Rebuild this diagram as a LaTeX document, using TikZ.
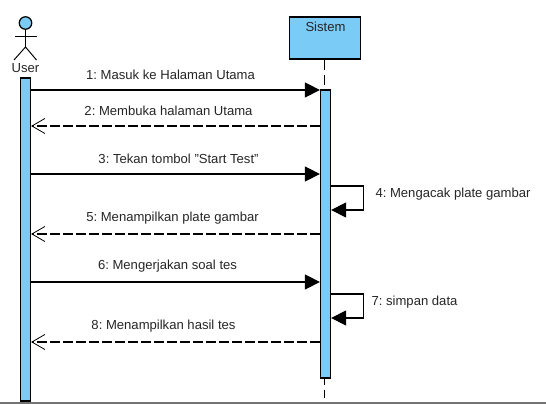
\documentclass[tikz,border=0pt]{standalone}
\usepackage{fontspec}
\setmainfont{Liberation Sans}
\usepackage{xcolor}
\usetikzlibrary{arrows.meta}
\usetikzlibrary{positioning}
\definecolor{barblue}{HTML}{7ACBF5}
\frenchspacing
\tikzset{
    bar/.style={draw=black, fill=barblue, line width=0.7pt, minimum width=0.2cm, inner sep=0pt},
    lbl/.style={font=\fontsize{7.45}{9}\selectfont, text=black!85, inner sep=0pt},
    msg/.style={line width=0.6pt, -{Triangle[length=0.3cm,width=0.3cm]}},
    reply/.style={line width=0.65pt, dash pattern=on 0.19cm off 0.07cm, -{Straight Barb[length=0.26cm,width=0.3cm,line width=0.45pt]}},
}
\begin{document}
\begin{tikzpicture}[x=0.02cm, y=-0.02cm]
        \useasboundingbox (0,0) rectangle (546,404);
        % baris bawah
        \fill[black!55] (0,402) rectangle (546,404);

        % aktor
        \node [circle, draw=black, fill=barblue, line width=0.7pt, minimum size=0.25cm, inner sep=0pt] (head) at (25.5,23) {};
        \coordinate (neck) at (25.5,47);
        \coordinate (armL) at (15,36);
        \coordinate (armR) at (36.5,36);
        \coordinate (legL) at (14,60);
        \coordinate (legR) at (36.5,60);
        \draw [line width=0.55pt] (head) -- (neck);
        \draw [line width=0.55pt] (armL) -- (armR);
        \draw [line width=0.55pt] (legL) -- (neck) -- (legR);
        \node [lbl] (user) at (25.5,68.5) {User};
        \node [bar, minimum height=6.46cm, anchor=north] (userbar) at (25.5,77.5) {};

        % sistem
        \node [bar, minimum width=1.42cm, minimum height=0.84cm] (sistem) at (325,38) {};
        \node [lbl] (sistemlbl) at (325.5,26.5) {Sistem};
        \coordinate (lifeend) at (324.5,398);
        \draw [line width=0.7pt, dash pattern=on 0.2cm off 0.1cm] (sistem.south -| lifeend) -- (lifeend);
        \node [bar, minimum height=5.76cm, anchor=north] (sistembar) at (325.5,89.5) {};

        % pesan
        \coordinate (m1) at (0,90);
        \coordinate (m2) at (0,126);
        \coordinate (m3) at (0,174);
        \coordinate (m5) at (0,234);
        \coordinate (m6) at (0,282);
        \coordinate (m8) at (0,342);
        \draw [msg] (userbar.east |- m1) -- (sistembar.west |- m1);
        \draw [reply] (sistembar.west |- m2) -- (userbar.east |- m2);
        \draw [msg] (userbar.east |- m3) -- (sistembar.west |- m3);
        \draw [reply] (sistembar.west |- m5) -- (userbar.east |- m5);
        \draw [msg] (userbar.east |- m6) -- (sistembar.west |- m6);
        \draw [reply] (sistembar.west |- m8) -- (userbar.east |- m8);

        % pesan ke diri sendiri
        \coordinate (s4a) at (0,186);
        \coordinate (s4b) at (0,210);
        \coordinate (s7a) at (0,294);
        \coordinate (s7b) at (0,318);
        \draw [msg] (sistembar.east |- s4a) -- ++(32,0) |- (sistembar.east |- s4b);
        \draw [msg] (sistembar.east |- s7a) -- ++(32,0) |- (sistembar.east |- s7b);

        % label
        \node [lbl] (l1) at (170.5,74.5) {1: Masuk ke Halaman Utama};
        \node [lbl] (l2) at (168.5,110.5) {2: Membuka halaman Utama};
        \node [lbl] (l3) at (178.5,158.5) {3: Tekan tombol "Start Test"};
        \node [lbl] (l4) at (453,194.5) {4: Mengacak plate gambar};
        \node [lbl] (l5) at (172.5,218.5) {5: Menampilkan plate gambar};
        \node [lbl] (l6) at (167.5,266.5) {6: Mengerjakan soal tes};
        \node [lbl] (l7) at (414.5,302.5) {7: simpan data};
        \node [lbl] (l8) at (163.5,326.5) {8: Menampilkan hasil tes};
\end{tikzpicture}
\end{document}
